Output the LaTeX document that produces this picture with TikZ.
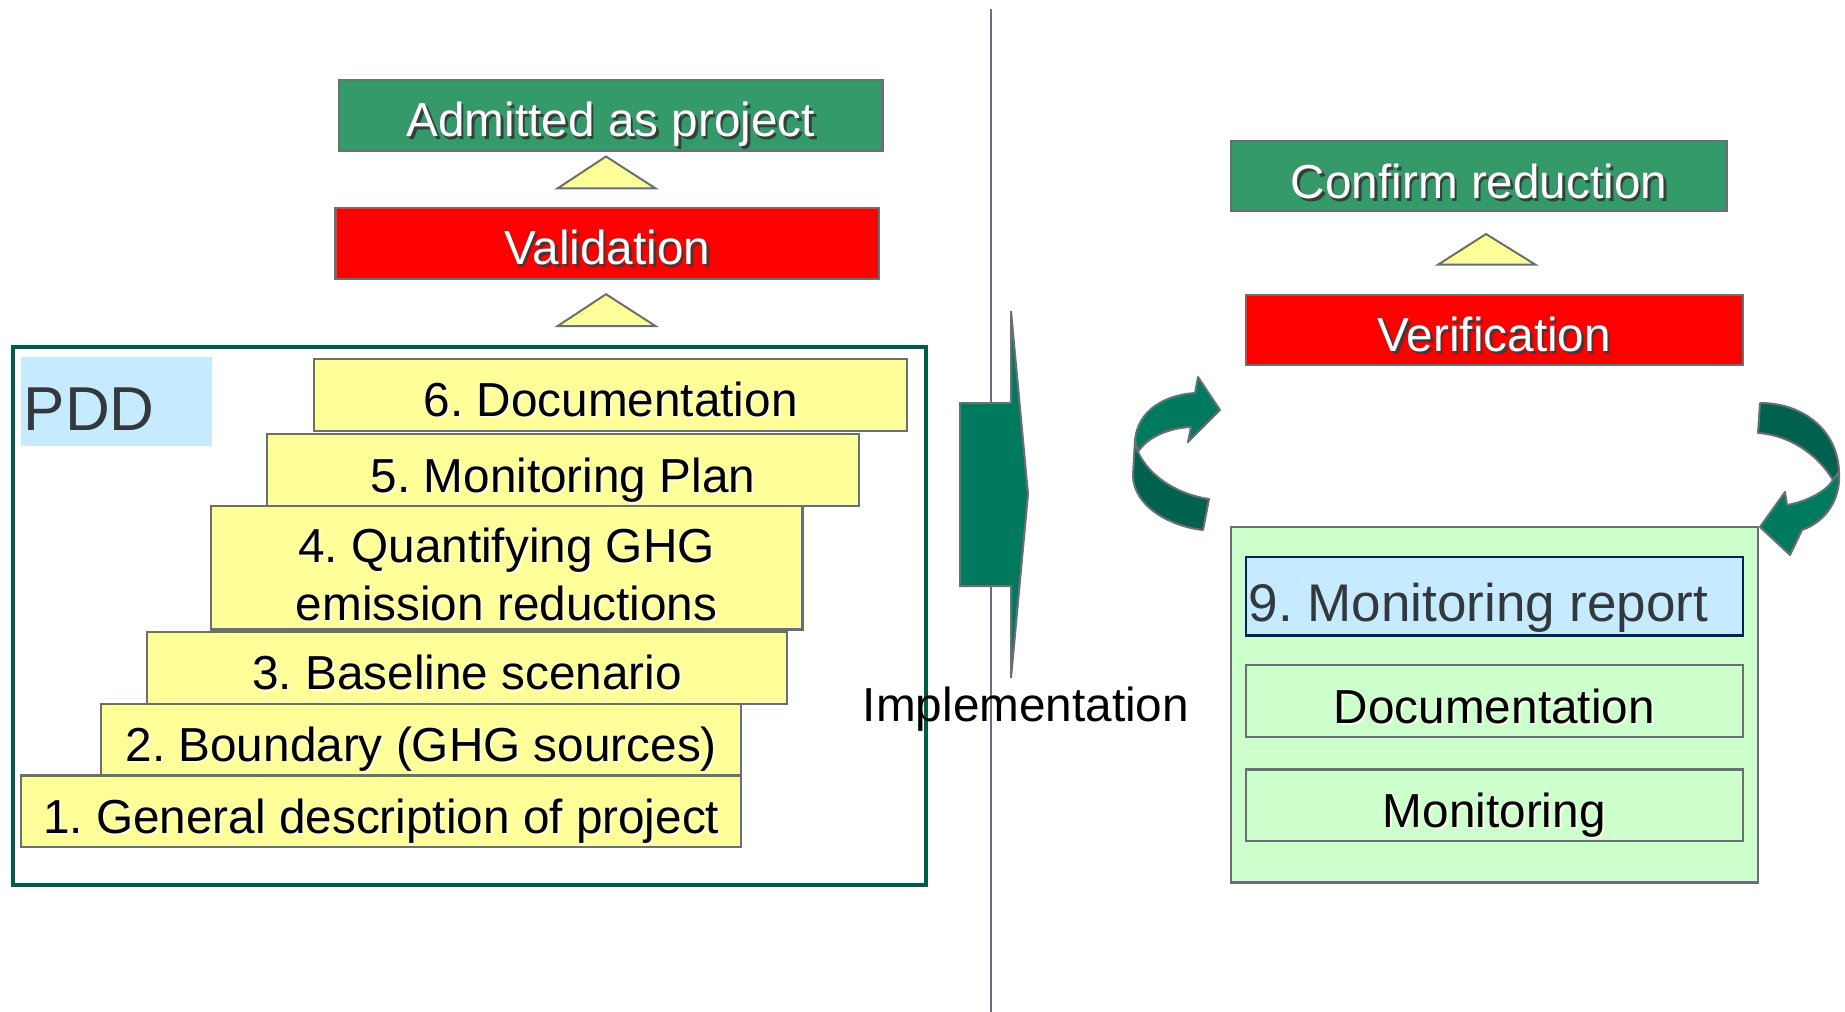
\documentclass[tikz,border=0pt]{standalone}
\usepackage{fontspec}
\setmainfont{Liberation Sans}
\usetikzlibrary{calc}
\frenchspacing

\definecolor{okgreen}{RGB}{53,154,106}
\definecolor{alarmred}{RGB}{255,0,0}
\definecolor{paleyellow}{RGB}{255,255,153}
\definecolor{paleblue}{RGB}{198,234,255}
\definecolor{palegreen}{RGB}{204,255,204}
\definecolor{pddgreen}{RGB}{0,92,70}
\definecolor{edgegray}{RGB}{104,112,116}
\definecolor{navyedge}{RGB}{0,32,96}
\definecolor{darktext}{RGB}{51,56,60}
\definecolor{curlfront}{RGB}{0,122,94}
\definecolor{curlback}{RGB}{0,98,78}
\definecolor{shadowc}{RGB}{60,60,60}
\definecolor{haloc}{RGB}{250,250,235}

% white lettering with a dark drop shadow
\newcommand{\darkshadow}[1]{\makebox[0pt][l]{\kern2.5pt\raisebox{-2.5pt}{\textcolor{shadowc}{#1}}}#1}
% black lettering with a faint light shadow
\newcommand{\lightshadow}[1]{\makebox[0pt][l]{\kern2pt\raisebox{-2pt}{\textcolor{haloc}{#1}}}#1}

\begin{document}
\begin{tikzpicture}[x=1pt,y=-1pt,
  panel/.style={draw=edgegray, line width=2.2pt, inner sep=0pt, outer sep=0pt, anchor=north west},
  greenbox/.style={panel, fill=okgreen},
  redbox/.style={panel, fill=alarmred},
  stepbox/.style={panel, fill=paleyellow},
  subbox/.style={panel, fill=palegreen},
  tri/.style={draw=edgegray, line width=2pt, fill=paleyellow, line join=miter},
  curl/.style={draw=edgegray, line width=2pt, line join=round},
  txt/.style={font=\fontsize{47.7}{57}\selectfont, inner sep=0pt, anchor=base},
  wtxt/.style={txt, text=white},
]
\useasboundingbox (0,0) rectangle (1845,1012);

% dividing line between the two phases
\coordinate (vtop) at (990.8,9);
\coordinate (vbot) at (990.8,1012);
\draw[edgegray, line width=2pt] (vtop) -- (vbot);

% ---------- left: project design and validation ----------
\node[greenbox, minimum width=543.5, minimum height=70.6] (adm) at (339,80) {};
\node[wtxt] (admt) at ($(adm.south)+(0,-14)$) {\darkshadow{Admitted as project}};

\draw[tri] (557.7,188.3) -- (606,156.5) -- (655.4,188.3) -- cycle;

\node[redbox, minimum width=543.6, minimum height=70.6] (val) at (335.4,208.3) {};
\node[wtxt] (valt) at ($(val.south)+(0,-14)$) {\darkshadow{Validation}};

\draw[tri] (557.7,326) -- (606,294.2) -- (655.4,326) -- cycle;

% PDD frame
\node[draw=pddgreen, line width=4.5pt, inner sep=0pt, anchor=north west,
      minimum width=913.1, minimum height=537.7] (pdd) at (10.6,344.8) {};
\node[fill=paleblue, inner sep=0pt, anchor=north west,
      minimum width=190.6, minimum height=89.5] (pddlab) at (21.2,356.5) {};
\node[txt, anchor=base west, text=darktext, font=\fontsize{62}{70}\selectfont] (pddt) at (23.5,430) {PDD};

% the six steps of the PDD
\node[stepbox, minimum width=720.1, minimum height=71.8] (b1) at (21.2,775.4) {};
\node[stepbox, minimum width=640.1, minimum height=71.8] (b2) at (101.2,703.6) {};
\node[stepbox, minimum width=640.1, minimum height=71.7] (b3) at (147.1,631.9) {};
\node[stepbox, minimum width=591.9, minimum height=123.5] (b4) at (210.6,506) {};
\node[stepbox, minimum width=591.9, minimum height=71.8] (b5) at (267.1,434.2) {};
\node[stepbox, minimum width=593, minimum height=71.8] (b6) at (314.2,358.9) {};

\node[txt] (t1) at ($(b1.south)+(0,-14)$) {\lightshadow{1. General description of project}};
\node[txt] (t2) at ($(b2.south)+(0,-14)$) {\lightshadow{2. Boundary (GHG sources)}};
\node[txt] (t3) at ($(b3.south)+(0,-14)$) {\lightshadow{3. Baseline scenario}};
\node[txt] (t4a) at ($(b4.south)+(0,-67.5)$) {\lightshadow{4. Quantifying GHG}};
\node[txt] (t4b) at ($(b4.south)+(0,-9.5)$) {\lightshadow{emission reductions}};
\node[txt] (t5) at ($(b5.south)+(0,-14)$) {\lightshadow{5. Monitoring Plan}};
\node[txt] (t6) at ($(b6.south)+(0,-14)$) {\lightshadow{6. Documentation}};

% ---------- implementation arrow ----------
\draw[curl, fill=curlfront, line join=miter]
  (960,403) -- (1011,403) -- (1011,311) -- (1028,494) -- (1011,678)
  -- (1011,586) -- (960,586) -- cycle;
\node[txt] (impl) at (1026,721) {Implementation};

% ---------- right: monitoring and verification ----------
\node[greenbox, minimum width=496.5, minimum height=69.4] (conf) at (1230.8,141.2) {};
\node[wtxt] (conft) at ($(conf.south)+(0,-12)$) {\darkshadow{Confirm reduction}};

\draw[tri] (1438,264.7) -- (1486,234) -- (1535.5,264.7) -- cycle;

\node[redbox, minimum width=496.6, minimum height=69.5] (ver) at (1246,295.3) {};
\node[wtxt] (vert) at ($(ver.south)+(0,-13)$) {\darkshadow{Verification}};

\node[subbox, minimum width=527.2, minimum height=355.4] (mpanel) at (1230.8,527.1) {};
\node[panel, draw=navyedge, fill=paleblue, minimum width=496.6, minimum height=78.8] (mr) at (1246,556.6) {};
\node[txt, anchor=base west, text=darktext, font=\fontsize{53}{62}\selectfont] (mrt) at (1248.5,621) {9. Monitoring report};
\node[subbox, minimum width=496.6, minimum height=71.8] (doc) at (1246,664.8) {};
\node[txt] (doct) at ($(doc.south)+(0,-13)$) {\lightshadow{Documentation}};
\node[subbox, minimum width=496.6, minimum height=71.8] (mon) at (1246,769.5) {};
\node[txt] (mont) at ($(mon.south)+(0,-14)$) {\lightshadow{Monitoring}};

% curled arrow on the left of the cycle
\draw[curl, fill=curlback]
  (1135,440) -- (1133,475) .. controls (1133,505) and (1168,526) .. (1203,530)
  -- (1209,499) .. controls (1180,495) and (1150,478) .. (1138,452) -- cycle;
\draw[curl, fill=curlfront]
  (1135,440) .. controls (1138,410) and (1165,395) .. (1195,393)
  -- (1198,377) -- (1220,410) -- (1188,442) -- (1191,427)
  .. controls (1165,428) and (1145,440) .. (1138,452) -- cycle;

% curled arrow on the right of the cycle
\draw[curl, fill=curlback]
  (1760,403) .. controls (1805,403) and (1838,432) .. (1839,472)
  -- (1833,480) .. controls (1818,455) and (1790,435) .. (1758,433) -- cycle;
\draw[curl, fill=curlfront]
  (1839,472) .. controls (1841,500) and (1825,522) .. (1802,530)
  -- (1790,555) -- (1760,527) -- (1785,492) -- (1787,505)
  .. controls (1805,502) and (1826,492) .. (1833,480) -- cycle;
\end{tikzpicture}
\end{document}
